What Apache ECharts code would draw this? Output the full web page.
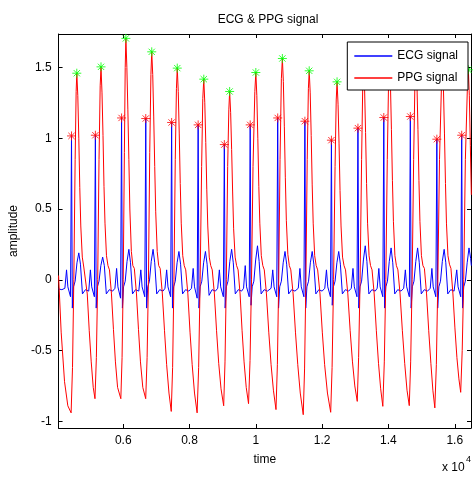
<!DOCTYPE html>
<html>
<head>
<meta charset="utf-8">
<script src="https://cdn.jsdelivr.net/npm/echarts@6/dist/echarts.min.js"></script>
<style>
  html, body { margin: 0; padding: 0; background: #fff; }
  #main { width: 473px; height: 477px; }
</style>
</head>
<body>
<div id="main"></div>
<script>
// ECG signal (sample index, amplitude)
var ecgPoints = [
  [4050,-0.065],[4150,-0.07],[4240,-0.06],[4290,0.07],[4330,-0.05],[4410,-0.12],[4440,1.016],[4465,-0.2],[4500,-0.05],[4550,-0.01],[4605,0.12],[4660,0.19],[4710,0.11],[4770,-0.1],[4860,-0.07],[4960,-0.08],
  [5010,0.07],[5050,-0.05],[5130,-0.12],[5160,1.021],[5185,-0.2],[5220,-0.05],[5270,-0.01],[5325,0.1],[5380,0.16],[5430,0.1],[5490,-0.1],[5580,-0.07],[5680,-0.08],
  [5750,-0.06],[5800,0.08],[5840,-0.05],[5920,-0.13],[5950,1.143],[5975,-0.2],[6010,-0.05],[6060,-0.01],[6115,0.13],[6170,0.215],[6220,0.12],[6280,-0.1],[6370,-0.07],[6470,-0.08],
  [6530,0.07],[6570,-0.05],[6650,-0.12],[6680,1.139],[6705,-0.2],[6740,-0.05],[6790,-0.01],[6845,0.13],[6900,0.215],[6950,0.12],[7010,-0.1],[7100,-0.07],[7200,-0.08],
  [7260,-0.06],[7310,0.07],[7350,-0.05],[7430,-0.12],[7460,1.111],[7485,-0.2],[7520,-0.05],[7570,-0.01],[7625,0.12],[7680,0.2],[7730,0.11],[7790,-0.1],[7880,-0.07],[7980,-0.08],
  [8060,-0.06],[8110,0.08],[8150,-0.05],[8230,-0.13],[8260,1.094],[8285,-0.2],[8320,-0.05],[8370,-0.01],[8425,0.12],[8480,0.2],[8530,0.11],[8590,-0.11],[8680,-0.07],[8780,-0.08],
  [8850,-0.06],[8900,0.07],[8940,-0.05],[9020,-0.12],[9050,0.955],[9075,-0.2],[9110,-0.05],[9160,-0.01],[9215,0.13],[9270,0.215],[9320,0.12],[9380,-0.1],[9470,-0.07],[9570,-0.08],
  [9630,-0.06],[9680,0.1],[9720,-0.05],[9800,-0.12],[9830,1.094],[9855,-0.18],[9890,-0.05],[9940,-0.01],[9995,0.14],[10050,0.24],[10100,0.13],[10160,-0.1],[10250,-0.07],[10350,-0.08],
  [10460,-0.06],[10510,0.07],[10550,-0.05],[10630,-0.12],[10660,1.143],[10685,-0.2],[10720,-0.05],[10770,-0.01],[10825,0.12],[10880,0.2],[10930,0.11],[10990,-0.1],[11080,-0.07],[11180,-0.08],
  [11280,-0.06],[11330,0.08],[11370,-0.05],[11450,-0.12],[11480,1.12],[11505,-0.2],[11540,-0.05],[11590,-0.01],[11645,0.12],[11700,0.2],[11750,0.11],[11810,-0.1],[11900,-0.07],[12000,-0.08],
  [12080,-0.06],[12130,0.07],[12170,-0.05],[12250,-0.12],[12280,0.986],[12305,-0.18],[12340,-0.05],[12390,-0.01],[12445,0.12],[12500,0.2],[12550,0.11],[12610,-0.1],[12700,-0.07],[12800,-0.08],
  [12880,-0.06],[12930,0.08],[12970,-0.05],[13050,-0.12],[13080,1.071],[13105,-0.2],[13140,-0.05],[13190,-0.01],[13245,0.14],[13300,0.24],[13350,0.13],[13410,-0.1],[13500,-0.07],[13600,-0.08],
  [13660,-0.06],[13710,0.08],[13750,-0.05],[13830,-0.12],[13860,1.146],[13885,-0.2],[13920,-0.05],[13970,-0.01],[14025,0.13],[14080,0.225],[14130,0.12],[14190,-0.1],[14280,-0.07],[14380,-0.08],
  [14460,-0.06],[14510,0.07],[14550,-0.05],[14630,-0.12],[14660,1.153],[14685,-0.2],[14720,-0.05],[14770,-0.01],[14825,0.13],[14880,0.225],[14930,0.12],[14990,-0.1],[15080,-0.07],[15180,-0.08],
  [15260,-0.06],[15310,0.08],[15350,-0.05],[15430,-0.12],[15460,0.993],[15485,-0.2],[15520,-0.05],[15570,-0.01],[15625,0.13],[15680,0.215],[15730,0.12],[15790,-0.1],[15880,-0.07],[15980,-0.08],
  [16060,0.07],[16100,-0.05],[16180,-0.12],[16210,1.021],[16235,-0.2],[16270,-0.05],[16320,-0.01],[16375,0.12],[16430,0.225],[16480,0.15],[16500,0.1]
];

// PPG signal (sample index, amplitude)
var ppgPoints = [
  [4050,0.03],[4128,-0.37],[4230,-0.72],[4329,-0.89],
  [4428,-0.94],[4470,-0.62],[4510,0.0],[4550,0.85],[4580,1.33],[4600,1.459],[4630,1.3],[4660,1.0],[4690,0.65],[4720,0.38],[4765,0.16],[4810,0.09],[4855,0.08],[4915,-0.1],[4975,-0.36],[5035,-0.58],[5095,-0.76],
  [5148,-0.84],[5190,-0.55],[5230,0.0],[5270,0.85],[5305,1.37],[5330,1.504],[5360,1.32],[5390,1.02],[5420,0.66],[5450,0.4],[5495,0.17],[5540,0.1],[5585,0.07],[5645,-0.1],[5705,-0.35],[5765,-0.58],[5830,-0.76],
  [5928,-0.84],[5965,-0.55],[6000,0.0],[6035,0.9],[6060,1.5],[6080,1.705],[6110,1.5],[6140,1.2],[6170,0.85],[6200,0.5],[6245,0.2],[6290,0.1],[6335,0.08],[6400,-0.1],[6460,-0.35],[6520,-0.58],[6590,-0.76],
  [6678,-0.84],[6720,-0.55],[6760,0.0],[6800,0.9],[6835,1.45],[6860,1.61],[6890,1.45],[6920,1.15],[6950,0.8],[6980,0.48],[7025,0.2],[7070,0.1],[7115,0.08],[7180,-0.1],[7245,-0.36],[7310,-0.6],[7380,-0.8],
  [7449,-0.93],[7490,-0.62],[7530,0.0],[7570,0.85],[7605,1.35],[7630,1.495],[7660,1.33],[7690,1.03],[7720,0.68],[7750,0.4],[7795,0.17],[7840,0.1],[7885,0.07],[7950,-0.1],[8015,-0.37],[8080,-0.6],[8150,-0.8],
  [8229,-0.94],[8275,-0.62],[8320,0.0],[8365,0.8],[8400,1.28],[8430,1.417],[8460,1.25],[8490,0.97],[8520,0.64],[8550,0.38],[8595,0.16],[8640,0.1],[8685,0.07],[8750,-0.1],[8815,-0.36],[8880,-0.59],[8950,-0.77],
  [9030,-0.89],[9070,-0.58],[9110,0.0],[9150,0.8],[9185,1.2],[9210,1.33],[9240,1.18],[9270,0.92],[9300,0.62],[9330,0.36],[9375,0.16],[9420,0.1],[9465,0.07],[9525,-0.1],[9585,-0.36],[9645,-0.58],[9710,-0.76],
  [9780,-0.875],[9825,-0.57],[9870,0.0],[9915,0.8],[9970,1.33],[10000,1.464],[10030,1.3],[10060,1.0],[10090,0.66],[10120,0.4],[10165,0.17],[10210,0.1],[10255,0.07],[10320,-0.1],[10390,-0.37],[10460,-0.6],[10530,-0.78],
  [10608,-0.917],[10650,-0.6],[10690,0.0],[10730,0.85],[10770,1.42],[10800,1.563],[10830,1.4],[10860,1.08],[10890,0.72],[10920,0.42],[10965,0.18],[11010,0.1],[11055,0.07],[11125,-0.1],[11195,-0.37],[11265,-0.6],[11340,-0.8],
  [11430,-0.953],[11470,-0.63],[11510,0.0],[11550,0.85],[11585,1.35],[11610,1.476],[11640,1.32],[11670,1.02],[11700,0.67],[11730,0.4],[11775,0.17],[11820,0.1],[11865,0.07],[11935,-0.1],[12005,-0.37],[12075,-0.6],[12160,-0.8],
  [12258,-0.936],[12300,-0.62],[12345,0.0],[12390,0.8],[12425,1.27],[12450,1.398],[12480,1.24],[12510,0.96],[12540,0.63],[12570,0.38],[12615,0.16],[12660,0.1],[12705,0.07],[12775,-0.1],[12845,-0.36],[12915,-0.58],[12985,-0.75],
  [13059,-0.859],[13100,-0.55],[13145,0.0],[13190,0.85],[13225,1.38],[13250,1.52],[13280,1.35],[13310,1.04],[13340,0.68],[13370,0.4],[13415,0.17],[13460,0.1],[13505,0.07],[13570,-0.1],[13635,-0.36],[13700,-0.59],[13765,-0.77],
  [13830,-0.894],[13875,-0.58],[13920,0.0],[13965,0.85],[14005,1.42],[14030,1.56],[14060,1.38],[14090,1.06],[14120,0.7],[14150,0.41],[14195,0.17],[14240,0.1],[14285,0.07],[14350,-0.1],[14420,-0.36],[14490,-0.59],[14560,-0.78],
  [14628,-0.889],[14670,-0.58],[14715,0.0],[14760,0.85],[14800,1.42],[14830,1.56],[14860,1.38],[14890,1.06],[14920,0.7],[14950,0.41],[14995,0.17],[15040,0.1],[15085,0.08],[15150,-0.1],[15215,-0.36],[15280,-0.59],[15340,-0.78],
  [15399,-0.905],[15445,-0.6],[15490,0.0],[15540,0.85],[15600,1.38],[15630,1.5],[15660,1.34],[15690,1.03],[15720,0.68],[15750,0.4],[15795,0.17],[15840,0.11],[15885,0.08],[15945,-0.1],[16005,-0.34],[16065,-0.55],[16125,-0.7],
  [16179,-0.795],[16225,-0.5],[16270,0.0],[16320,0.85],[16380,1.35],[16410,1.483],[16440,1.3],[16470,0.95],[16500,0.6]
];

// detected R peaks (red *) and PPG peaks (green *)
var rPeaks = [
  [4440,1.016],[5160,1.021],[5950,1.143],[6680,1.139],[7460,1.111],[8260,1.094],[9050,0.955],[9830,1.094],
  [10660,1.143],[11480,1.12],[12280,0.986],[13080,1.071],[13860,1.146],[14660,1.153],[15460,0.993],[16210,1.021]
];
var ppgPeaks = [
  [4600,1.459],[5330,1.504],[6080,1.705],[6860,1.61],[7630,1.495],[8430,1.417],[9210,1.33],[10000,1.464],
  [10800,1.563],[11610,1.476],[12450,1.398],[13250,1.52],[14030,1.56],[14830,1.56],[15630,1.5],[16410,1.483]
];

var xTicks = [6000, 8000, 10000, 12000, 14000, 16000];
var yTicks = [-1, -0.5, 0, 0.5, 1, 1.5];

var myChart = echarts.init(document.getElementById('main'));

var FONT = '"Liberation Sans", Arial, Helvetica, sans-serif';
var starPath = 'path://M0,5L10,5M5,0L5,10M1.5,1.5L8.5,8.5M1.5,8.5L8.5,1.5';
var legendLine = 'path://M0,0L38,0L38,1.3L0,1.3Z';

var xAxisBase = {
    type: 'value',
    min: 4050,
    max: 16490,
    axisLine: { show: true, onZero: false, lineStyle: { color: '#000', width: 1 } },
    axisTick: { show: true, inside: true, length: 4, customValues: xTicks, lineStyle: { color: '#000' } },
    splitLine: { show: false }
};
var yAxisBase = {
    type: 'value',
    min: -1.047,
    max: 1.736,
    axisLine: { show: true, onZero: false, lineStyle: { color: '#000', width: 1 } },
    axisTick: { show: true, inside: true, length: 4, customValues: yTicks, lineStyle: { color: '#000' } },
    splitLine: { show: false }
};

var option = {
    animation: false,
    backgroundColor: '#fff',
    textStyle: { fontFamily: FONT, color: '#000' },
    title: {
        text: 'ECG & PPG signal',
        left: 263,
        textAlign: 'center',
        top: 9,
        textStyle: { fontFamily: FONT, fontSize: 12, fontWeight: 'normal', color: '#000' }
    },
    grid: { left: 56, top: 34, right: 2, bottom: 49 },
    legend: {
        data: ['ECG signal', 'PPG signal'],
        orient: 'vertical',
        right: 5,
        top: 42,
        padding: [8, 10, 6, 7],
        icon: legendLine,
        itemWidth: 38,
        itemHeight: 14,
        itemGap: 10,
        backgroundColor: '#fff',
        borderColor: '#000',
        borderWidth: 1,
        borderRadius: 0,
        textStyle: { fontFamily: FONT, fontSize: 12, color: '#000' }
    },
    xAxis: [
        Object.assign({}, xAxisBase, {
            position: 'bottom',
            name: 'time',
            nameLocation: 'middle',
            nameGap: 26,
            nameTextStyle: { fontFamily: FONT, fontSize: 12, color: '#000' },
            axisLabel: {
                customValues: xTicks,
                margin: 7,
                fontFamily: FONT, fontSize: 12, color: '#000',
                formatter: function (v) { return String(+(v / 10000).toFixed(1)); }
            }
        }),
        Object.assign({}, xAxisBase, { position: 'top', axisLabel: { show: false } })
    ],
    yAxis: [
        Object.assign({}, yAxisBase, {
            position: 'left',
            name: 'amplitude',
            nameLocation: 'middle',
            nameGap: 31,
            nameTextStyle: { fontFamily: FONT, fontSize: 12, color: '#000' },
            axisLabel: {
                customValues: yTicks,
                margin: 7,
                fontFamily: FONT, fontSize: 12, color: '#000'
            }
        }),
        Object.assign({}, yAxisBase, { position: 'right', axisLabel: { show: false } })
    ],
    graphic: [
        { type: 'text', left: 442, top: 462, style: { text: 'x 10', fontFamily: FONT, fontSize: 12, fill: '#000' } },
        { type: 'text', left: 466, top: 455, style: { text: '4', fontFamily: FONT, fontSize: 9, fill: '#000' } }
    ],
    series: [
        {
            name: 'ECG signal',
            type: 'line',
            data: ecgPoints,
            showSymbol: false,
            symbol: 'none',
            lineStyle: { color: '#0000ff', width: 1 },
            itemStyle: { color: '#0000ff' }
        },
        {
            name: 'PPG signal',
            type: 'line',
            data: ppgPoints,
            showSymbol: false,
            symbol: 'none',
            lineStyle: { color: '#ff0000', width: 1 },
            itemStyle: { color: '#ff0000' }
        },
        {
            name: 'R peaks',
            type: 'scatter',
            data: rPeaks,
            symbol: starPath,
            symbolSize: 9,
            itemStyle: { color: 'transparent', borderColor: '#ff0000', borderWidth: 1 },
            z: 3
        },
        {
            name: 'PPG peaks',
            type: 'scatter',
            data: ppgPeaks,
            symbol: starPath,
            symbolSize: 9,
            itemStyle: { color: 'transparent', borderColor: '#00ff00', borderWidth: 1 },
            z: 3
        }
    ]
};

myChart.setOption(option);

window.onresize = function () {
    myChart.resize();
};
</script>
</body>
</html>
